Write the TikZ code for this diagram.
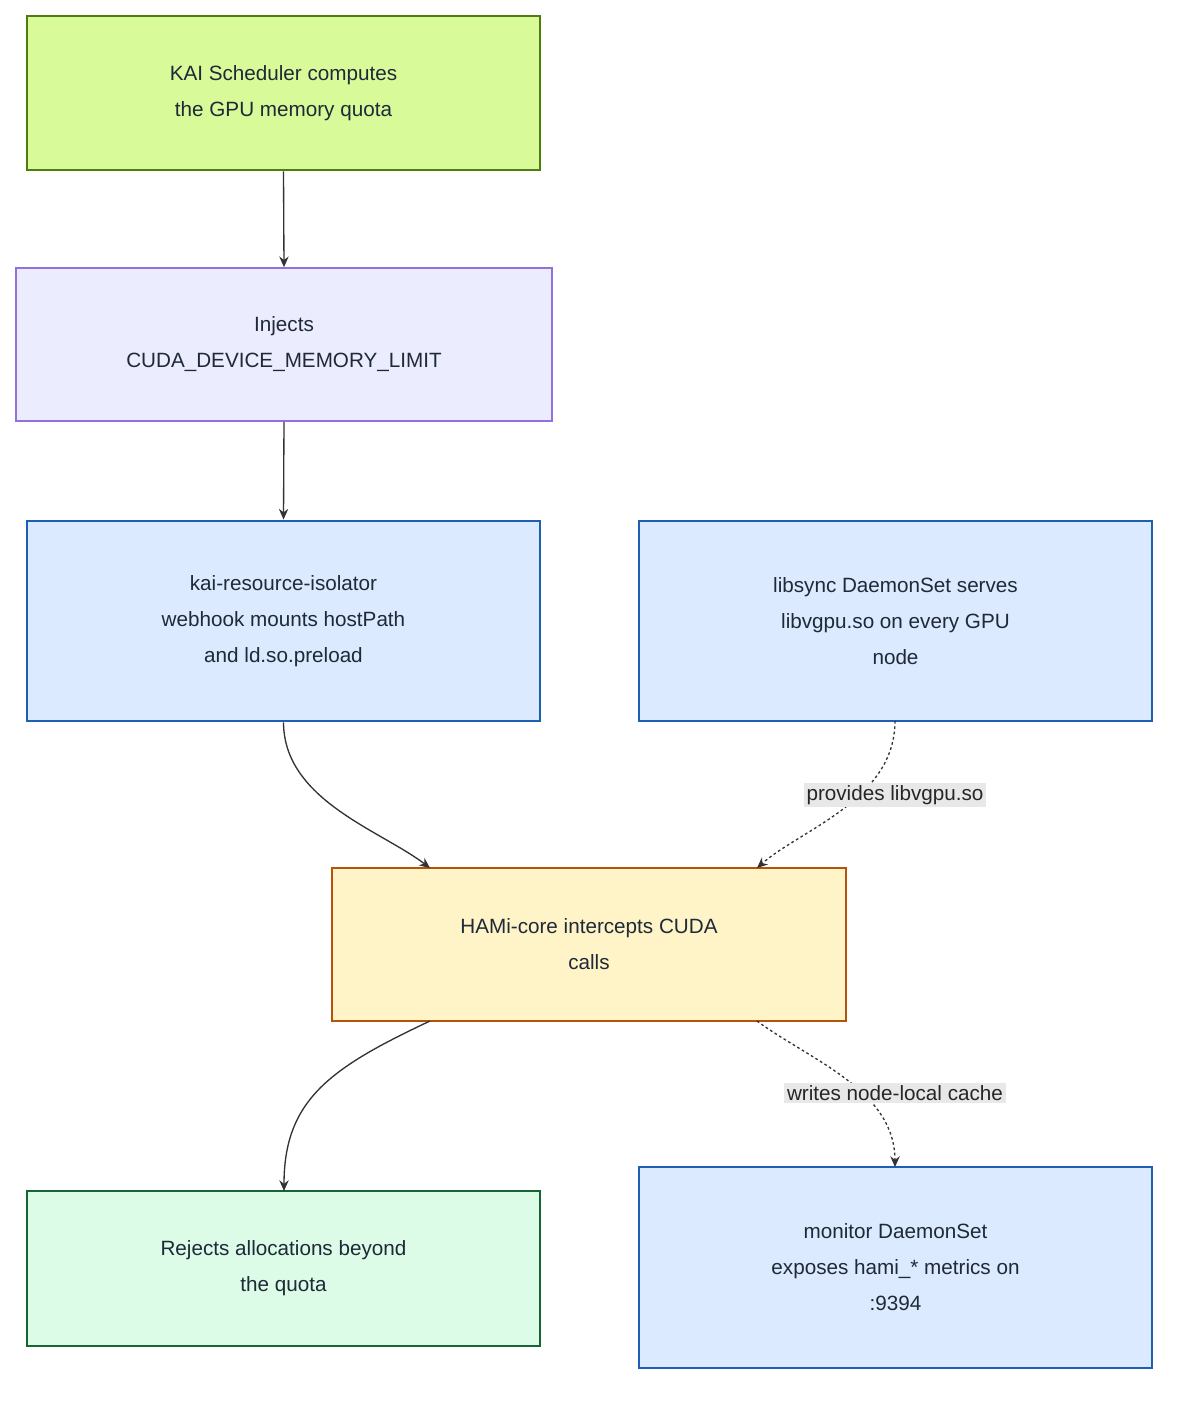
\documentclass[tikz,border=0pt]{standalone}
\usepackage{fontspec}
\setmainfont{Liberation Sans}
\usetikzlibrary{arrows.meta}
\definecolor{txt}{HTML}{1F2937}
\begin{document}
\begin{tikzpicture}[x=0.75pt,y=-0.75pt,
  box/.style={draw,line width=2.2pt,align=center,font=\fontsize{15.5}{27}\selectfont,text=txt,inner sep=0pt},
  ar/.style={draw=black!80,line width=1pt,-{Stealth[length=8pt,width=7pt]}},
  dt/.style={ar,dash pattern=on 2pt off 2pt},
  lbl/.style={fill=black!9,font=\fontsize{15.5}{20}\selectfont,text=black!85,inner sep=2pt}]
\useasboundingbox (0,0) rectangle (1184,1404);
\node[box,fill={rgb,255:red,217;green,250;blue,153},draw={rgb,255:red,77;green,124;blue,15},minimum width=513*0.75pt,minimum height=154*0.75pt] (A) at (283.5,93) {KAI Scheduler computes\\the GPU memory quota};
\node[box,line width=1.2pt,fill={rgb,255:red,236;green,236;blue,255},draw={rgb,255:red,147;green,112;blue,219},minimum width=536*0.75pt,minimum height=153*0.75pt] (B) at (284,344.5) {Injects\\CUDA\_DEVICE\_MEMORY\_LIMIT};
\node[box,fill={rgb,255:red,219;green,234;blue,254},draw={rgb,255:red,30;green,95;blue,180},minimum width=513*0.75pt,minimum height=200*0.75pt] (C) at (283.5,621) {kai-resource-isolator\\webhook mounts hostPath\\and ld.so.preload};
\node[box,fill={rgb,255:red,219;green,234;blue,254},draw={rgb,255:red,30;green,95;blue,180},minimum width=513*0.75pt,minimum height=200*0.75pt] (D) at (895.5,621) {libsync DaemonSet serves\\libvgpu.so on every GPU\\node};
\node[box,fill={rgb,255:red,255;green,244;blue,200},draw={rgb,255:red,180;green,83;blue,9},minimum width=514*0.75pt,minimum height=153*0.75pt] (E) at (589,944.5) {HAMi-core intercepts CUDA\\calls};
\node[box,fill={rgb,255:red,220;green,252;blue,231},draw={rgb,255:red,22;green,101;blue,52},minimum width=513*0.75pt,minimum height=155*0.75pt] (F) at (283.5,1268.5) {Rejects allocations beyond\\the quota};
\node[box,fill={rgb,255:red,219;green,234;blue,254},draw={rgb,255:red,30;green,95;blue,180},minimum width=513*0.75pt,minimum height=201*0.75pt] (G) at (895.5,1267.5) {monitor DaemonSet\\exposes hami\_* metrics on\\:9394};
\draw[ar] (A.south) -- (B.north);
\draw[ar] (B.south) -- (C.north);
\draw[ar] (C.south) .. controls (284,800) and (380,830) .. (430,868);
\draw[dt] (895,721) .. controls (895,800) and (800,830) .. (757,868);
\node[lbl] (L1) at (895,795) {provides libvgpu.so};
\draw[ar] (430,1021) .. controls (330,1068) and (284,1100) .. (284,1191);
\draw[dt] (757,1021) .. controls (810,1060) and (895,1090) .. (895,1167);
\node[lbl] (L2) at (895,1093) {writes node-local cache};
\end{tikzpicture}
\end{document}
